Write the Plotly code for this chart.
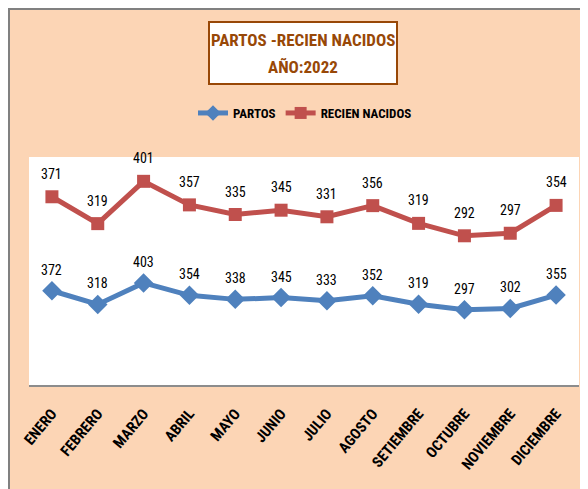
import plotly.graph_objects as go

months = ["ENERO", "FEBRERO", "MARZO", "ABRIL", "MAYO", "JUNIO", "JULIO",
          "AGOSTO", "SETIEMBRE", "OCTUBRE", "NOVIEMBRE", "DICIEMBRE"]
partos = [372, 318, 403, 354, 338, 345, 333, 352, 319, 297, 302, 355]
recien_nacidos = [371, 319, 401, 357, 335, 345, 331, 356, 319, 292, 297, 354]

W, H = 588, 489          # browser window
OFF = 8                  # default page body margin
L, R, T, B = 29, 579, 157, 385  # plot area in screen pixels
PW, PH = R - L, B - T


def px(x):
    return (x - L) / PW


def py(y):
    return (B - y) / PH


BLUE = "#4F81BD"
RED = "#C0504D"
PEACH = "#FCD5B5"
BROWN = "#984807"
FONT = "Roboto Condensed, Liberation Sans Narrow, Arial Narrow, sans-serif"

fig = go.Figure()
fig.add_trace(go.Scatter(
    x=months, y=partos, name="PARTOS", stackgroup="one", fill="none",
    mode="lines+markers",
    line=dict(color=BLUE, width=5),
    marker=dict(symbol="diamond", size=15, color=BLUE),
))
fig.add_trace(go.Scatter(
    x=months, y=recien_nacidos, name="RECIEN NACIDOS", stackgroup="one", fill="none",
    mode="lines+markers",
    line=dict(color=RED, width=5),
    marker=dict(symbol="square", size=13, color=RED),
))

annotations = []
for m, p in zip(months, partos):
    annotations.append(dict(x=m, y=p, text=str(p), showarrow=False, yshift=21,
                            font=dict(family=FONT, size=14, color="#000000", weight="normal")))
for m, p, r in zip(months, partos, recien_nacidos):
    annotations.append(dict(x=m, y=p + r, text=str(r), showarrow=False, yshift=23,
                            font=dict(family=FONT, size=14, color="#000000", weight="normal")))

annotations.append(dict(xref="paper", yref="paper", x=px(303), y=py(40),
                        text="<b>PARTOS -RECIEN NACIDOS</b>", showarrow=False,
                        xanchor="center", yanchor="middle",
                        font=dict(family=FONT, size=17, color=BROWN)))
annotations.append(dict(xref="paper", yref="paper", x=px(303), y=py(67),
                        text="<b>AÑO:2022</b>", showarrow=False,
                        xanchor="center", yanchor="middle",
                        font=dict(family=FONT, size=17, color=BROWN)))

shapes = [
    # peach chart area
    dict(type="rect", xref="paper", yref="paper", layer="below",
         x0=px(8), x1=px(W + 5), y0=py(8), y1=py(H + 5),
         fillcolor=PEACH, line=dict(width=0)),
    # white plot area
    dict(type="rect", xref="paper", yref="paper", layer="below",
         x0=0, x1=1, y0=0, y1=1, fillcolor="#FFFFFF", line=dict(width=0)),
    # grey outer border: top and left
    dict(type="line", xref="paper", yref="paper", layer="below",
         x0=px(8), x1=px(W + 5), y0=py(9), y1=py(9),
         line=dict(color="#808080", width=2)),
    dict(type="line", xref="paper", yref="paper", layer="below",
         x0=px(9), x1=px(9), y0=py(8), y1=py(H + 5),
         line=dict(color="#808080", width=2)),
    # title box
    dict(type="rect", xref="paper", yref="paper", layer="below",
         x0=px(209), x1=px(397), y0=py(22), y1=py(84),
         fillcolor="#FFFFFF", line=dict(color=BROWN, width=2)),
]

fig.update_layout(
    width=W - OFF, height=H - OFF,
    margin=dict(l=L - OFF, r=W - R, t=T - OFF, b=H - B, autoexpand=False),
    paper_bgcolor="#FFFFFF",
    plot_bgcolor="rgba(0,0,0,0)",
    showlegend=True,
    legend=dict(orientation="h", x=px(305), y=py(113), xanchor="center", yanchor="middle",
                bgcolor="rgba(0,0,0,0)", itemsizing="constant",
                font=dict(family=FONT, size=13, color="#000000", weight="bold"),
                itemwidth=30),
    xaxis=dict(type="category", tickangle=-50, showgrid=False, zeroline=False,
               showline=True, linecolor="#8C8C8C", linewidth=2, automargin=False,
               ticks="outside", ticklen=12, tickcolor="rgba(0,0,0,0)",
               tickfont=dict(family=FONT, size=15, color="#000000", weight="bold"),
               range=[-0.5, 11.5]),
    yaxis=dict(range=[0, 900], visible=False, showgrid=False, zeroline=False,
               automargin=False),
    annotations=annotations,
    shapes=shapes,
)

fig.write_html("out.html")
